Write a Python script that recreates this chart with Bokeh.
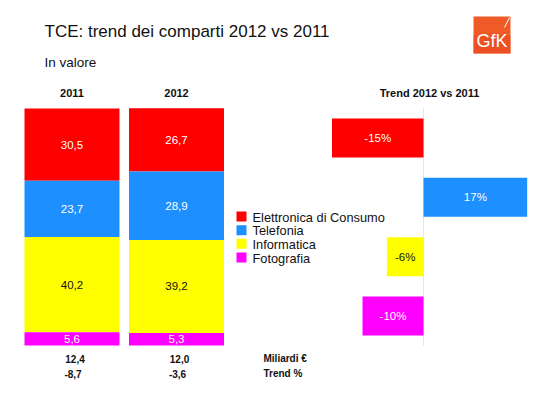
import numpy as np
from bokeh.plotting import figure
from bokeh.models import Range1d, ColumnDataSource
from bokeh.core.properties import value
from bokeh.embed import file_html
from bokeh.resources import INLINE

# ---------------- data ----------------
title_text = "TCE: trend dei comparti 2012 vs 2011"
subtitle_text = "In valore"
years = ["2011", "2012"]
categories = ["Elettronica di Consumo", "Telefonia", "Informatica", "Fotografia"]
share_2011 = [30.5, 23.7, 40.2, 5.6]
share_2012 = [26.7, 28.9, 39.2, 5.3]
trend_title = "Trend 2012 vs 2011"
trend_values = [-15, 17, -6, -10]
totals = [12.4, 12.0]
total_trend = [-8.7, -3.6]
row_labels = ["Miliardi €", "Trend %"]
logo_text = "GfK"

colors = ["#FF0000", "#1E8FFF", "#FFFF00", "#FF00FF"]
label_colors = ["white", "white", "#111111", "white"]
FONT = value("Liberation Sans")

def it_fmt(v):
    return f"{v:.1f}".replace(".", ",")

# ---------------- figure ----------------
W, H = 550, 393
OFF = 8  # main layout coordinates are measured from (8, 8)
p = figure(width=W, height=H, x_range=Range1d(-OFF, W - OFF), y_range=Range1d(-OFF, H - OFF),
           output_backend="svg", toolbar_location=None, min_border=0,
           x_axis_location=None, y_axis_location=None, outline_line_color=None)
p.grid.visible = False
p.background_fill_color = "white"
p.border_fill_color = "white"

def linmap(v0, px0, scale, total):
    start = v0 - (px0 + OFF) / scale
    return Range1d(start=start, end=start + total / scale)

p.extra_x_ranges = {"sx": linmap(0, 63.5, 104.5, W), "tx": linmap(0, 415, 6.1, W)}
p.extra_y_ranges = {"sy": linmap(0, 40, 2.37, H), "ty": linmap(0, 247.5, -59.33, H)}

# ---------------- stacked bars ----------------
shares = np.array([share_2011, share_2012])
xs, bots, tops, cols, labs, lcols = [], [], [], [], [], []
for j in range(len(years)):
    for i in range(len(categories)):
        bottom = shares[j, i + 1:].sum()
        top = bottom + shares[j, i]
        xs.append(j); bots.append(bottom); tops.append(top)
        cols.append(colors[i]); labs.append(it_fmt(shares[j, i])); lcols.append(label_colors[i])
src = ColumnDataSource(dict(x=xs, bottom=bots, top=tops, color=cols, label=labs,
                            lcolor=lcols, mid=[(b + t) / 2 for b, t in zip(bots, tops)]))
p.vbar(x="x", bottom="bottom", top="top", width=0.909, fill_color="color", line_color=None,
       source=src, x_range_name="sx", y_range_name="sy")
p.text(x="x", y="mid", text="label", text_color="lcolor", text_align="center",
       text_baseline="middle", text_font=FONT, text_font_size="11.5px",
       source=src, x_range_name="sx", y_range_name="sy")

# year headers
p.text(x=list(range(len(years))), y=[292.5] * len(years), text=years, text_align="center",
       text_baseline="middle", text_font=FONT, text_font_style="bold",
       text_font_size="11px", text_color="#111111", x_range_name="sx")

# totals rows
p.text(x=list(range(len(totals))), y=[26.5] * len(totals), text=[it_fmt(v) for v in totals],
       x_offset=3, text_align="center", text_baseline="middle", text_font=FONT,
       text_font_style="bold", text_font_size="10px", text_color="#111111", x_range_name="sx")
p.text(x=list(range(len(total_trend))), y=[12] * len(total_trend),
       text=[it_fmt(v) for v in total_trend], x_offset=1, text_align="center",
       text_baseline="middle", text_font=FONT, text_font_style="bold",
       text_font_size="10px", text_color="#111111", x_range_name="sx")
p.text(x=[255, 255], y=[27, 12], text=row_labels, text_align="left", text_baseline="middle",
       text_font=FONT, text_font_style="bold", text_font_size="10px", text_color="#111111")

# ---------------- trend bars ----------------
tsrc = ColumnDataSource(dict(y=list(range(len(categories))), right=trend_values, color=colors,
                             label=[f"{v}%" for v in trend_values], lcolor=label_colors,
                             mid=[v / 2 for v in trend_values]))
p.segment(x0=[0], x1=[0], y0=[-0.5], y1=[len(categories) - 0.5], line_color="#e6e6e6",
          line_width=1, x_range_name="tx", y_range_name="ty")
p.hbar(y="y", left=0, right="right", height=0.657, fill_color="color", line_color=None,
       source=tsrc, x_range_name="tx", y_range_name="ty")
p.text(x="mid", y="y", text="label", text_color="lcolor", text_align="center",
       text_baseline="middle", text_font=FONT, text_font_size="11.5px",
       source=tsrc, x_range_name="tx", y_range_name="ty")
p.text(x=[421], y=[292.5], text=[trend_title], text_align="center", text_baseline="middle",
       text_font=FONT, text_font_style="bold", text_font_size="11px", text_color="#111111")

# ---------------- legend ----------------
leg_y = [169 - 13.67 * i for i in range(len(categories))]
p.rect(x=[233] * len(categories), y=leg_y, width=10, height=10, width_units="screen",
       height_units="screen", fill_color=colors, line_color=None)
p.text(x=[244] * len(categories), y=[v - 0.5 for v in leg_y], text=categories,
       text_align="left", text_baseline="middle", text_font=FONT, text_font_size="12.8px",
       text_color="#111111")

# ---------------- titles ----------------
p.text(x=[36], y=[354], text=[title_text], text_align="left", text_baseline="alphabetic",
       text_font=FONT, text_font_size="17px", text_color="#111111")
p.text(x=[36], y=[322.7], text=[subtitle_text], text_align="left", text_baseline="alphabetic",
       text_font=FONT, text_font_size="13.5px", text_color="#111111")

# ---------------- logo ----------------
p.rect(x=[483.5], y=[350.5], width=37, height=37, fill_color="#F05A26", line_color=None)
p.rect(x=[483.5], y=[341], width=37, height=18, fill_color="#E9471E", line_color=None,
       fill_alpha=0.6)
p.text(x=[483.5], y=[345], text=[logo_text], text_align="center", text_baseline="alphabetic",
       text_font=FONT, text_font_size="18px", text_color="white")
p.segment(x0=[496], y0=[358], x1=[501], y1=[368], line_color="white", line_width=1)

open("out.html", "w").write(file_html(p, INLINE))
